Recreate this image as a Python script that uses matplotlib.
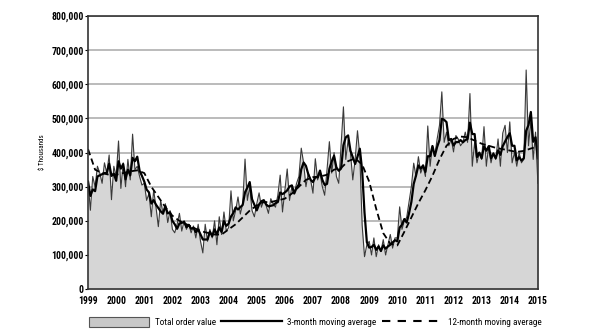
import numpy as np
import pandas as pd
import matplotlib
matplotlib.use("Agg")
import matplotlib.pyplot as plt
from matplotlib import font_manager
from matplotlib.patches import Patch
from matplotlib.lines import Line2D
from matplotlib.ticker import FuncFormatter

# pick a narrow face if there is one
names = {f.name for f in font_manager.fontManager.ttflist}
narrow = [n for n in ['Liberation Sans Narrow', 'DejaVu Sans Condensed', 'Roboto Condensed',
                      'Open Sans Condensed'] if n in names]
plt.rcParams['font.family'] = narrow + ['DejaVu Sans']
fs = 7 if narrow else 5.8

# monthly total order value, $ thousands, Jan 1999 .. Jan 2015
orders = [
    315, 231, 330, 300, 360, 340, 310, 370, 340, 393, 262, 360,   # 1999
    330, 434, 295, 370, 300, 380, 320, 454, 350, 360, 330, 305,   # 2000
    310, 260, 280, 212, 290, 240, 183, 260, 220, 250, 195, 230,   # 2001
    175, 165, 190, 222, 170, 200, 175, 190, 165, 185, 150, 190,   # 2002
    140, 106, 190, 140, 175, 150, 200, 130, 212, 160, 226, 170,   # 2003
    180, 288, 200, 230, 270, 220, 250, 381, 260, 300, 230, 212,   # 2004
    250, 282, 240, 260, 245, 222, 265, 250, 240, 275, 334, 226,   # 2005
    290, 352, 260, 300, 280, 310, 330, 413, 370, 300, 340, 320,   # 2006
    281, 382, 320, 340, 300, 275, 350, 432, 340, 400, 330, 310,   # 2007
    420, 534, 380, 437, 400, 320, 380, 464, 390, 187, 95, 130,    # 2008
    140, 100, 150, 95, 130, 110, 145, 100, 130, 160, 120, 150,    # 2009
    150, 241, 175, 200, 210, 256, 300, 369, 330, 388, 340, 360,   # 2010
    330, 478, 360, 420, 390, 440, 480, 578, 430, 460, 420, 440,   # 2011
    402, 450, 440, 420, 430, 460, 430, 573, 360, 430, 370, 400,   # 2012
    380, 476, 360, 420, 370, 400, 380, 440, 360, 457, 480, 400,   # 2013
    490, 370, 400, 360, 400, 370, 380, 642, 420, 495, 380, 460,   # 2014
    310,                                                          # 2015
]

# 12-month moving average, quarterly
ma12 = [
    410, 350, 340, 335,
    335, 340, 345, 348,
    340, 300, 270, 240,
    215, 200, 190, 180,
    170, 165, 160, 160,
    175, 190, 210, 230,
    245, 255, 255, 260,
    265, 280, 300, 320,
    328, 330, 335, 350,
    355, 375, 383, 365,
    315, 235, 164, 133,
    128, 168, 210, 252,
    290, 332, 380, 420,
    440, 447, 445, 435,
    426, 420, 414, 410,
    406, 402, 405, 412,
    418,
]

years = list(range(1999, 2016))
yticks = [0, 100000, 200000, 300000, 400000, 500000, 600000, 700000, 800000]

t_month = 1999 + np.arange(len(orders)) / 12.0
t_quarter = 1999 + np.arange(len(ma12)) / 4.0
vals = np.array(orders) * 1000.0
ma3 = pd.Series(vals).rolling(3, min_periods=1).mean().values
ma12v = np.array(ma12) * 1000.0

fig = plt.figure(figsize=(5.95, 3.35), dpi=100)
ax = fig.add_axes([0.148, 0.137, 0.756, 0.815])

ax.fill_between(t_month, 0, vals, color='#d6d6d6', lw=0, zorder=1)
ax.plot(t_month, vals, color='#3a3a3a', lw=0.8, zorder=3)
ax.plot(t_month, ma3, color='black', lw=1.6, zorder=4)
ax.plot(t_quarter, ma12v, color='black', lw=1.3, dashes=(3.5, 2), zorder=5)

ax.set_xlim(1999, 2015)
ax.set_ylim(0, 800000)
ax.set_xticks(years)
ax.set_xticklabels([str(y) for y in years], fontsize=fs, fontweight='bold')
ax.set_yticks(yticks)
ax.yaxis.set_major_formatter(FuncFormatter(lambda v, p: f"{int(v):,}"))
for lab in ax.get_yticklabels():
    lab.set_fontsize(fs)
    lab.set_fontweight('bold')
ax.tick_params(axis='y', length=2, width=0.8, pad=1)
ax.tick_params(axis='x', length=0, pad=5)
ax.grid(axis='y', color='#a8a8a8', lw=1.1, zorder=0)
ax.set_axisbelow(True)
for s in ax.spines.values():
    s.set_color('#333333')
    s.set_linewidth(1.2)
    s.set_zorder(6)

ax.set_ylabel('$ Thousands', fontsize=5, labelpad=4)

handles = [
    Patch(facecolor='#c8c8c8', edgecolor='#555555', lw=0.8),
    Line2D([], [], color='black', lw=1.6),
    Line2D([], [], color='black', lw=1.5, dashes=(4, 3.5)),
]
labels = ['Total order value', '3-month moving average', '12-month moving average']
fig.legend(handles, labels, loc='center', bbox_to_anchor=(0.53, 0.04), ncol=3,
           frameon=False, fontsize=fs - 0.4, handlelength=6.6, handleheight=1.3,
           columnspacing=0.6, handletextpad=0.6)

fig.savefig('out.png', dpi=100)
